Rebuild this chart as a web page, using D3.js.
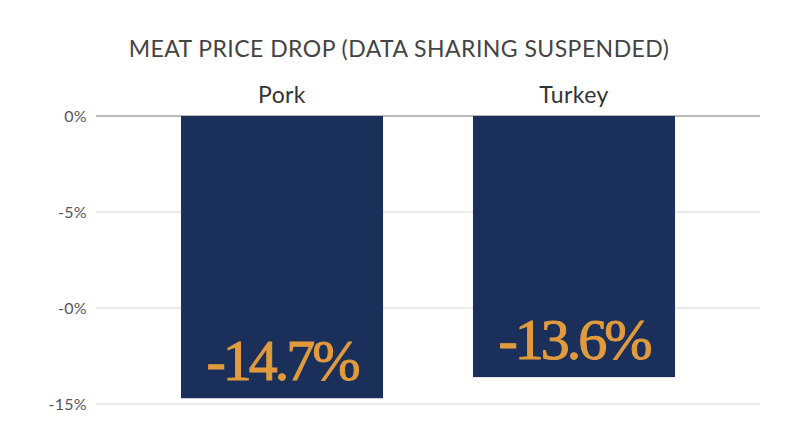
<!DOCTYPE html>
<html>
<head>
<meta charset="utf-8">
<script src="https://cdn.jsdelivr.net/npm/d3@7"></script>
<style>
  html, body { margin: 0; padding: 0; background: #fff; }
  svg { display: block; }
</style>
</head>
<body>
<svg id="chart" width="800" height="447"></svg>
<script>
// Meat price drop bar chart
const TITLE = 'MEAT PRICE DROP (DATA SHARING SUSPENDED)';
const categories = ['Pork', 'Turkey'];
const values = [-14.7, -13.6];
const tickValues = [0, -5, -10, -15];
const tickLabels = ['0%', '-5%', '-0%', '-15%'];

const W = 800, H = 447;
const MARGIN = { top: 116, right: 40, bottom: 43, left: 96 };
const width = W - MARGIN.left - MARGIN.right;
const height = H - MARGIN.top - MARGIN.bottom;

const svg = d3.select('#chart');

svg.append('text')
    .attr('x', 399).attr('y', 57)
    .attr('text-anchor', 'middle')
    .attr('font-family', 'Lato, "Open Sans", sans-serif')
    .attr('font-size', 23)
    .attr('letter-spacing', 0.45)
    .attr('fill', '#444')
    .text(TITLE);

const g = svg.append('g').attr('transform', `translate(${MARGIN.left},${MARGIN.top})`);

const x = d3.scaleBand()
    .domain(categories)
    .range([0, width])
    .paddingInner(0.308)
    .paddingOuter(0.291);

const y = d3.scaleLinear().domain([0, -15]).range([0, 288]);

// gridlines
g.append('g').attr('class', 'grid')
    .selectAll('line')
    .data(tickValues)
    .join('line')
    .attr('x1', 0).attr('x2', width)
    .attr('y1', d => y(d)).attr('y2', d => y(d))
    .attr('stroke', d => d === 0 ? '#777' : '#e3e3e3')
    .attr('stroke-width', d => d === 0 ? 1.2 : 1.5);

// y axis labels
const yAxis = g.append('g')
    .call(d3.axisLeft(y).tickValues(tickValues)
        .tickFormat((d, i) => tickLabels[i]).tickSize(0).tickPadding(9));
yAxis.select('.domain').remove();
yAxis.selectAll('text')
    .attr('font-family', 'Lato, "Open Sans", sans-serif')
    .attr('font-size', 16)
    .attr('letter-spacing', 0.3)
    .attr('fill', '#555');

// bars
g.selectAll('.bar')
    .data(categories)
    .join('rect')
    .attr('class', 'bar')
    .attr('x', d => x(d))
    .attr('width', x.bandwidth())
    .attr('y', y(0))
    .attr('height', (d, i) => y(values[i]) - y(0))
    .attr('fill', '#1b2f5b');

// category labels
g.selectAll('.cat')
    .data(categories)
    .join('text')
    .attr('class', 'cat')
    .attr('x', d => x(d) + x.bandwidth() / 2)
    .attr('y', -13)
    .attr('text-anchor', 'middle')
    .attr('font-family', 'Lato, "Open Sans", sans-serif')
    .attr('font-size', 23)
    .attr('letter-spacing', 0.4)
    .attr('fill', '#333')
    .text(d => d);

// value labels
g.selectAll('.val')
    .data(categories)
    .join('text')
    .attr('class', 'val')
    .attr('x', d => x(d) + x.bandwidth() / 2)
    .attr('y', (d, i) => y(values[i]) - 18)
    .attr('text-anchor', 'middle')
    .attr('font-family', '"Liberation Serif", "DejaVu Serif", serif')
    .attr('font-size', 58)
    .attr('letter-spacing', -3)
    .attr('fill', '#e29b3c')
    .attr('stroke', '#e29b3c')
    .attr('stroke-width', 1)
    .text((d, i) => `${values[i]}%`);
</script>
</body>
</html>
